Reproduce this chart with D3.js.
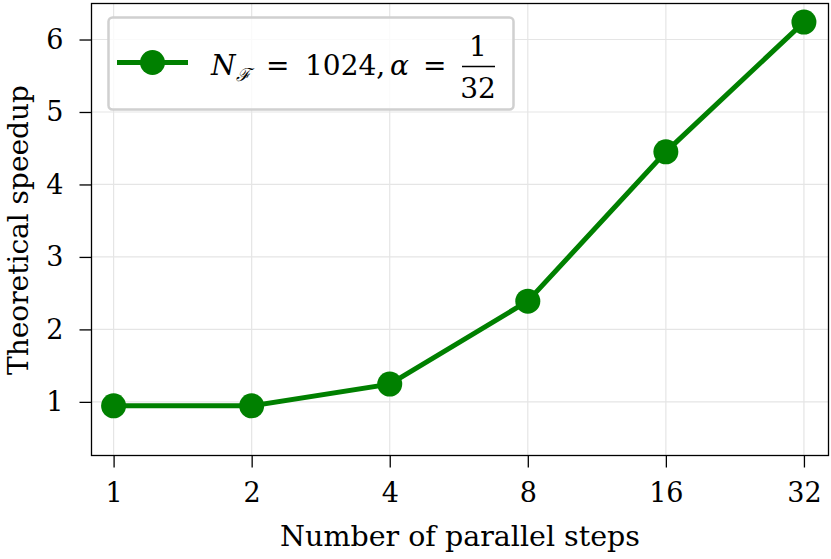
<!DOCTYPE html>
<meta charset="utf-8">
<style>
  body {margin: 0; background: #fff;}
  svg text {font-family: 'DejaVu Serif', serif; fill: #000;}
</style>
<body>
<svg width="831" height="559"></svg>
<script src="https://d3js.org/d3.v7.min.js"></script>
<script>

var steps = [1, 2, 4, 8, 16, 32];
var speedup = [0.945, 0.945, 1.245, 2.39, 4.45, 6.24];
var yTicks = [1, 2, 3, 4, 5, 6];
var seriesColor = "#008000";

var svg = d3.select("svg");

var pLeft = 91.5, pRight = 828.5, pTop = 3.5, pBottom = 455.5;

var x = d3.scaleLog().base(2)
    .domain([0.895, 36.2])
    .range([pLeft, pRight]);

var y = d3.scaleLinear()
    .domain([0.26, 6.497])
    .range([pBottom, pTop]);

// grid
var grid = svg.append("g").style("stroke", "#e5e5e5").style("stroke-width", "1.2px");
grid.selectAll(".gx").data(steps).enter().append("line")
    .attr("x1", function(d) { return x(d); })
    .attr("x2", function(d) { return x(d); })
    .attr("y1", pTop).attr("y2", pBottom);
grid.selectAll(".gy").data(yTicks).enter().append("line")
    .attr("y1", function(d) { return y(d); })
    .attr("y2", function(d) { return y(d); })
    .attr("x1", pLeft).attr("x2", pRight);

// axes
var xAxis = svg.append("g")
    .attr("transform", "translate(0," + pBottom + ")")
    .call(d3.axisBottom(x).tickValues(steps).tickFormat(d3.format("d")).tickSize(12).tickPadding(15));
var yAxis = svg.append("g")
    .attr("transform", "translate(" + pLeft + ",0)")
    .call(d3.axisLeft(y).tickValues(yTicks).tickFormat(d3.format("d")).tickSize(12).tickPadding(16));

[xAxis, yAxis].forEach(function(a) {
  a.select(".domain").remove();
  a.selectAll("line").style("stroke", "#000").style("stroke-width", "1.3px");
  a.selectAll("text").style("font-size", "27px").style("font-family", "'DejaVu Serif', serif");
});
xAxis.selectAll("text").attr("dy", "0.74em");

svg.append("rect")
    .attr("x", pLeft).attr("y", pTop)
    .attr("width", pRight - pLeft).attr("height", pBottom - pTop)
    .style("fill", "none").style("stroke", "#000").style("stroke-width", "1.3px");

// line + markers
var line = d3.line()
    .x(function(d, i) { return x(steps[i]); })
    .y(function(d) { return y(d); });

svg.append("path")
    .datum(speedup)
    .attr("d", line)
    .style("fill", "none")
    .style("stroke", seriesColor)
    .style("stroke-width", "5px");

svg.append("g").selectAll("circle")
    .data(speedup)
    .enter().append("circle")
    .attr("cx", function(d, i) { return x(steps[i]); })
    .attr("cy", function(d) { return y(d); })
    .attr("r", 12.5)
    .style("fill", seriesColor);

// axis labels
svg.append("text")
    .attr("x", 460).attr("y", 546)
    .attr("text-anchor", "middle")
    .style("font-size", "28.5px")
    .text("Number of parallel steps");

svg.append("text")
    .attr("transform", "translate(28,230) rotate(-90)")
    .attr("text-anchor", "middle")
    .style("font-size", "28px")
    .text("Theoretical speedup");

// legend
var lg = svg.append("g");
lg.append("rect")
    .attr("x", 108.5).attr("y", 17.5).attr("width", 405).attr("height", 92)
    .attr("rx", 4)
    .style("fill", "#fff").style("fill-opacity", 0.8)
    .style("stroke", "#d0d0d0").style("stroke-width", "2.5px");
lg.append("line")
    .attr("x1", 117).attr("x2", 188).attr("y1", 62.5).attr("y2", 62.5)
    .style("stroke", seriesColor).style("stroke-width", "5px");
lg.append("circle")
    .attr("cx", 152.5).attr("cy", 62.5).attr("r", 12.5)
    .style("fill", seriesColor);

var lt = lg.append("text").attr("x", 211).attr("y", 75).style("font-size", "28px");
lt.append("tspan").style("font-style", "italic").text("N");
lt.append("tspan").attr("dy", 6).style("font-size", "18px").style("font-style", "italic").text("ℱ");
lt.append("tspan").attr("dy", -6).attr("x", 266).attr("textLength", 30).text("=");
lt.append("tspan").attr("x", 305).text("1024,");
lt.append("tspan").attr("x", 390).style("font-style", "italic").text("α");
lt.append("tspan").attr("x", 423).text("=");

lg.append("text").attr("x", 478).attr("y", 56).attr("text-anchor", "middle")
    .style("font-size", "28px").text("1");
lg.append("line").attr("x1", 462).attr("x2", 495).attr("y1", 66.5).attr("y2", 66.5)
    .style("stroke", "#000").style("stroke-width", "1.3px");
lg.append("text").attr("x", 478).attr("y", 98).attr("text-anchor", "middle")
    .style("font-size", "28px").text("32");

</script>
</body>
